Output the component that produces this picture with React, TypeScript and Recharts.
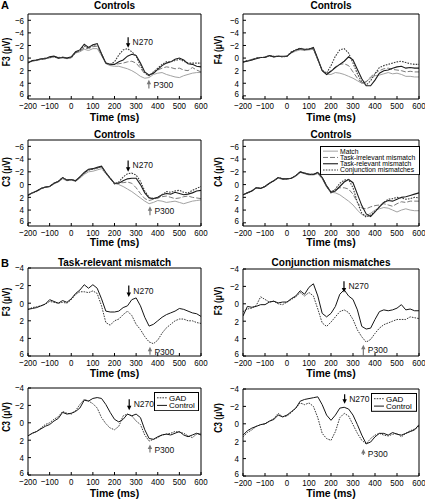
import React from "react";
import { LineChart, Line, XAxis, YAxis, ReferenceLine, Legend } from "recharts";

// sampling times (ms) shared by every panel
const TIMES = [-200, -180, -160, -140, -120, -100, -80, -60, -40, -20, 0, 20, 40, 60, 80, 100, 120, 140, 160, 180, 200, 220, 240, 260, 280, 300, 320, 340, 360, 380, 400, 420, 440, 460, 480, 500, 520, 540, 560, 580, 600];
const X_TICKS = [-200, -100, 0, 100, 200, 300, 400, 500, 600];
const Y_TICKS_A = [-6, -4, -2, 0, 2, 4, 6];
const Y_TICKS_B = [-4, -2, 0, 2, 4, 6];

// A: controls, four conditions
const F3_MATCH = [0.6, 0.5, 0.3, 0.2, 0.1, 0.0, -0.2, 0.0, -0.1, 0.1, 0.0, -0.8, -1.0, -1.4, -1.2, -1.5, -1.5, -0.4, 0.9, 1.2, 1.3, 1.3, 1.5, 1.7, 2.0, 2.4, 2.9, 3.2, 3.1, 2.6, 2.4, 2.3, 2.6, 2.8, 3.0, 3.1, 2.8, 2.6, 2.4, 2.3, 2.3];
const F3_IRREL = [0.7, 0.4, 0.4, 0.2, 0.1, -0.1, -0.3, -0.1, -0.2, 0.0, -0.1, -0.9, -1.1, -1.6, -1.5, -1.8, -1.9, -0.5, 0.8, 1.1, 1.0, 0.9, 0.8, 0.6, 0.5, 0.8, 1.6, 2.5, 2.8, 2.4, 1.9, 1.6, 1.4, 1.5, 1.7, 1.6, 1.9, 2.0, 1.5, 1.9, 2.2];
const F3_REL = [0.8, 0.4, 0.3, 0.1, 0.1, -0.2, -0.3, 0.0, -0.1, 0.0, -0.2, -1.0, -1.3, -2.2, -1.7, -2.1, -2.3, -0.7, 0.8, 1.0, 1.0, 0.6, 0.3, -0.3, -0.6, -0.4, 0.8, 2.2, 2.7, 2.4, 1.8, 1.2, 0.8, 0.6, 0.2, 0.0, 0.3, 0.9, 1.0, 1.3, 1.4];
const F3_CONJ = [0.7, 0.5, 0.3, 0.2, 0.0, -0.1, -0.2, 0.0, -0.1, 0.0, -0.1, -0.9, -1.2, -1.9, -1.6, -2.0, -2.2, -0.6, 0.7, 1.0, 0.6, -0.5, -1.3, -1.5, -1.0, -0.3, 1.2, 2.3, 2.8, 2.2, 1.6, 1.0, 0.6, 0.6, 0.4, 0.2, 0.5, 0.8, 0.8, 0.8, 0.8];

const F4_MATCH = [0.6, 0.4, 0.3, 0.0, -0.1, -0.1, -0.3, -0.2, -0.3, -0.2, -0.3, -0.8, -1.1, -1.3, -1.2, -1.3, -1.4, 0.3, 2.0, 2.6, 2.6, 2.3, 2.4, 2.6, 2.9, 3.2, 3.6, 4.0, 3.7, 3.2, 2.8, 2.7, 2.5, 2.3, 2.5, 2.4, 2.6, 2.9, 2.9, 3.0, 3.0];
const F4_IRREL = [0.7, 0.4, 0.2, 0.0, -0.1, -0.2, -0.4, -0.2, -0.3, -0.2, -0.3, -0.9, -1.3, -1.5, -1.3, -1.5, -1.6, 0.2, 2.0, 2.5, 2.0, 1.4, 1.0, 0.9, 1.2, 2.2, 3.2, 4.0, 3.8, 3.0, 2.4, 2.0, 1.7, 1.6, 1.8, 1.9, 2.0, 2.2, 2.1, 2.2, 2.2];
const F4_REL = [0.6, 0.5, 0.3, 0.1, -0.1, -0.1, -0.4, -0.2, -0.3, -0.3, -0.3, -0.9, -1.3, -1.5, -1.4, -1.4, -1.7, 0.1, 2.0, 2.6, 2.1, 1.5, 1.0, 0.5, -0.2, 0.3, 1.8, 3.3, 4.4, 4.4, 3.5, 2.4, 2.0, 1.9, 1.6, 1.4, 1.3, 1.6, 1.5, 1.6, 1.6];
const F4_CONJ = [0.6, 0.4, 0.3, 0.0, -0.1, -0.1, -0.4, -0.3, -0.3, -0.2, -0.3, -1.0, -1.3, -1.6, -1.3, -1.5, -1.5, 0.2, 1.9, 2.4, 1.2, -0.3, -1.3, -1.5, -0.8, 0.8, 2.5, 3.8, 4.3, 3.6, 2.5, 1.5, 1.2, 1.0, 0.8, 0.6, 0.5, 0.7, 0.9, 1.0, 1.0];

const C3_MATCH = [1.6, 1.3, 1.0, 0.7, 0.4, 0.3, -0.1, -0.4, -0.9, -0.6, -0.7, -0.5, -1.0, -1.6, -2.0, -2.1, -2.3, -2.5, -1.7, -0.9, -0.2, 0.0, 0.3, 0.7, 1.1, 1.6, 2.1, 2.6, 3.0, 2.8, 2.5, 2.6, 2.8, 2.7, 2.6, 2.8, 3.0, 2.8, 2.6, 2.5, 2.4];
const C3_IRREL = [1.6, 1.3, 1.0, 0.6, 0.4, 0.3, -0.2, -0.5, -1.1, -0.7, -0.8, -0.6, -1.2, -1.8, -2.3, -2.4, -2.6, -2.8, -1.9, -1.0, -0.1, -0.3, -0.3, -0.4, -0.2, 0.5, 1.4, 2.2, 2.5, 2.3, 2.1, 1.9, 1.8, 2.0, 2.2, 2.1, 1.9, 1.8, 2.0, 2.1, 2.2];
const C3_REL = [1.7, 1.3, 1.0, 0.6, 0.4, 0.3, -0.2, -0.5, -1.1, -0.7, -0.8, -0.6, -1.2, -1.9, -2.4, -2.5, -2.7, -2.9, -1.9, -1.0, -0.2, -0.2, -0.6, -0.9, -1.0, -1.0, 0.0, 1.3, 2.1, 2.2, 2.0, 1.6, 1.4, 1.5, 1.2, 1.4, 1.6, 1.5, 1.3, 1.0, 0.9];
const C3_CONJ = [1.6, 1.3, 1.1, 0.6, 0.4, 0.3, -0.2, -0.5, -1.1, -0.7, -0.8, -0.6, -1.2, -1.8, -2.3, -2.4, -2.6, -2.8, -1.8, -1.0, -0.1, -0.4, -1.2, -1.7, -1.8, -1.5, -0.5, 1.0, 2.0, 2.2, 2.1, 1.6, 1.1, 1.2, 1.0, 0.9, 1.2, 1.3, 0.9, 0.6, 0.3];

const C4_MATCH = [1.6, 1.3, 1.0, 0.5, 0.6, 0.3, -0.2, -0.6, -1.0, -0.8, -0.9, -1.0, -1.3, -1.9, -1.7, -1.5, -1.5, -1.7, -0.9, 0.4, 1.2, 1.3, 1.6, 2.1, 2.6, 3.2, 4.0, 4.7, 4.9, 4.5, 4.0, 3.8, 3.6, 3.7, 4.0, 4.3, 4.0, 3.8, 4.0, 4.1, 4.1];
const C4_IRREL = [1.6, 1.3, 1.0, 0.5, 0.6, 0.3, -0.2, -0.6, -1.1, -0.9, -0.9, -1.0, -1.4, -2.0, -1.8, -1.6, -1.6, -1.9, -1.1, 0.2, 1.1, 0.8, 0.5, 0.5, 0.7, 1.5, 2.8, 3.7, 3.8, 3.5, 3.3, 3.2, 3.0, 3.2, 3.4, 3.0, 2.7, 2.8, 2.6, 2.6, 2.6];
const C4_REL = [1.6, 1.3, 1.0, 0.5, 0.6, 0.3, -0.2, -0.6, -1.1, -0.9, -0.9, -1.0, -1.4, -2.0, -1.8, -1.6, -1.6, -1.9, -1.1, 0.2, 1.2, 1.0, 0.3, -0.4, -0.8, -0.3, 1.5, 3.3, 4.6, 5.0, 4.3, 3.5, 2.8, 2.5, 2.6, 2.3, 2.0, 1.9, 1.7, 1.5, 1.3];
const C4_CONJ = [1.6, 1.3, 1.0, 0.5, 0.6, 0.3, -0.2, -0.6, -1.1, -0.9, -0.9, -1.0, -1.4, -2.0, -1.8, -1.6, -1.6, -1.9, -1.1, 0.2, 1.3, 0.7, -0.2, -0.7, -0.8, 0.5, 2.8, 4.5, 5.1, 4.8, 4.2, 3.5, 2.8, 2.3, 2.2, 2.0, 2.1, 2.3, 2.2, 2.0, 2.1];

// B: GAD vs control
const F3_REL_GAD = [0.7, 0.5, 0.4, 0.3, 0.1, -0.2, -0.1, 0.0, -0.1, 0.0, -0.4, -1.0, -1.3, -1.3, -1.2, -1.4, -1.1, 0.3, 2.2, 2.5, 2.0, 1.8, 1.3, 0.9, 1.4, 2.4, 3.0, 3.8, 4.4, 4.6, 4.2, 3.4, 2.8, 2.4, 2.0, 1.8, 1.8, 2.0, 2.0, 2.2, 2.3];
const F3_REL_CONTROL = [0.7, 0.6, 0.5, 0.3, 0.1, -0.4, -0.2, 0.0, -0.3, -0.1, -0.5, -1.1, -1.5, -2.1, -1.7, -2.1, -1.7, -0.5, 0.9, 1.0, 1.0, 0.9, 0.5, 0.3, -0.4, -0.6, 0.3, 1.6, 2.6, 2.4, 2.0, 1.6, 1.3, 1.1, 0.9, 0.6, 0.7, 0.9, 1.1, 1.2, 1.5];
const F3_CONJ_GAD = [0.9, 0.6, 0.5, 0.2, -0.8, -0.5, -0.2, -0.3, 0.0, 0.1, -0.2, -0.5, -0.8, -1.3, -0.9, -1.3, -0.9, 0.6, 2.2, 2.6, 2.1, 1.5, 0.9, 0.7, 1.0, 1.8, 3.0, 3.8, 4.4, 4.1, 3.4, 2.8, 2.4, 2.2, 2.0, 1.8, 1.8, 1.8, 1.5, 1.6, 1.7];
const F3_CONJ_CONTROL = [1.4, 0.3, 0.4, 0.3, 0.1, 0.1, -0.2, -0.3, -0.1, -0.2, -0.2, -0.6, -0.9, -1.5, -1.1, -1.9, -2.3, -0.9, 1.1, 1.5, 1.1, 0.3, -1.1, -1.6, -0.9, -0.5, 0.7, 2.6, 2.9, 2.8, 1.8, 0.9, 0.7, 0.8, 0.7, 0.5, 0.1, 0.7, 0.6, 0.8, 0.8];
const C3_REL_GAD = [1.5, 1.2, 1.0, 0.6, 0.2, 0.0, -0.4, -0.7, -1.3, -1.1, -1.0, -1.4, -2.1, -2.7, -2.5, -2.2, -1.7, -0.6, 0.1, 0.6, 0.8, 0.4, -0.8, -1.0, -0.8, -0.2, 0.2, 1.4, 2.1, 1.9, 1.7, 1.4, 1.3, 1.2, 1.0, 1.1, 1.2, 1.5, 1.7, 1.3, 1.2];
const C3_REL_CONTROL = [1.5, 1.2, 1.0, 0.7, 0.4, 0.2, -0.2, -0.5, -1.2, -1.0, -1.1, -1.3, -1.7, -2.6, -2.5, -2.8, -2.9, -2.8, -2.1, -1.2, -0.4, -0.1, -0.4, -1.0, -0.8, -1.0, -0.6, 0.8, 1.8, 1.9, 1.6, 1.4, 1.3, 1.4, 1.2, 1.0, 1.4, 1.6, 1.4, 1.2, 1.4];
const C3_CONJ_GAD = [1.5, 1.0, 0.7, 0.3, 0.1, 0.0, -0.3, -0.6, -1.2, -0.8, -0.9, -1.3, -1.8, -2.4, -2.2, -2.4, -2.0, -0.7, 1.1, 1.7, 1.9, 0.9, -0.7, -1.2, -0.9, 0.1, 1.1, 1.9, 2.3, 1.7, 1.3, 1.1, 1.3, 1.4, 1.2, 1.1, 1.5, 1.1, 0.8, 0.6, 0.3];
const C3_CONJ_CONTROL = [1.3, 0.8, 0.5, 0.3, 0.1, 0.0, -0.3, -0.5, -1.0, -0.8, -1.0, -1.4, -1.8, -2.6, -2.8, -2.9, -3.0, -3.1, -2.2, -1.0, -0.4, -1.0, -1.8, -1.9, -1.7, -1.0, 0.1, 1.3, 2.3, 2.1, 1.5, 1.1, 1.1, 1.3, 1.0, 1.2, 1.3, 1.1, 0.9, 0.7, 0.1];

const SANS = "'Liberation Sans', Arial, Helvetica, sans-serif";
const SQUEEZE = 0.84; // the figure's axis text is a narrow face

type SeriesStyle = { key: string; name: string; stroke: string; width: number; dash?: string };

const A_SERIES: SeriesStyle[] = [
  { key: "match", name: "Match", stroke: "#a3a3a3", width: 1 },
  { key: "irrel", name: "Task-irrelevant mismatch", stroke: "#7a7a7a", width: 1, dash: "5 2" },
  { key: "rel", name: "Task-relevant mismatch", stroke: "#1c1c1c", width: 1.1 },
  { key: "conj", name: "Conjunction mismatches", stroke: "#3c3c3c", width: 1.1, dash: "1.6 1.2" },
];
const B_SERIES: SeriesStyle[] = [
  { key: "gad", name: "GAD", stroke: "#3a3a3a", width: 1, dash: "1.6 1.1" },
  { key: "control", name: "Control", stroke: "#151515", width: 1 },
];

type Note = { label: string; x: number; from: number; to: number; color: string };
type Panel = {
  id: string;
  left: number;
  top: number;
  plotW: number;
  plotH: number;
  domain: [number, number];
  yTicks: number[];
  title?: string;
  titleY?: number;
  yLabel: string;
  yLabelX: number;
  yLabelY: number;
  xLabelY: number;
  series: SeriesStyle[];
  values: Record<string, number[]>;
  legend?: { left: number; top: number; width: number; fontSize: number; rowH: number; sample: number };
  notes?: Note[];
};

const Y_W = 28;
const X_H = 15;
const RIGHT_PAD = 12;
const TOP_PAD = 6;

const PANELS: Panel[] = [
  {
    id: "a1", left: 28, top: 14, plotW: 173, plotH: 85, domain: [-7, 6.5], yTicks: Y_TICKS_A,
    title: "Controls", titleY: 6, yLabel: "F3 (μV)", yLabelX: 7, yLabelY: 52, xLabelY: 117,
    series: A_SERIES, values: { match: F3_MATCH, irrel: F3_IRREL, rel: F3_REL, conj: F3_CONJ },
    notes: [
      { label: "N270", x: 263, from: -3.3, to: -1.65, color: "#000" },
      { label: "P300", x: 359, from: 4.85, to: 3.45, color: "#777" },
    ],
  },
  {
    id: "a2", left: 243, top: 14, plotW: 176, plotH: 85, domain: [-7, 6.5], yTicks: Y_TICKS_A,
    title: "Controls", titleY: 6, yLabel: "F4 (μV)", yLabelX: 219, yLabelY: 50, xLabelY: 117,
    series: A_SERIES, values: { match: F4_MATCH, irrel: F4_IRREL, rel: F4_REL, conj: F4_CONJ },
  },
  {
    id: "a3", left: 28, top: 140, plotW: 173, plotH: 86, domain: [-7, 6.5], yTicks: Y_TICKS_A,
    title: "Controls", titleY: 135, yLabel: "C3 (μV)", yLabelX: 7, yLabelY: 172, xLabelY: 242,
    series: A_SERIES, values: { match: C3_MATCH, irrel: C3_IRREL, rel: C3_REL, conj: C3_CONJ },
    notes: [
      { label: "N270", x: 263, from: -3.8, to: -2.0, color: "#000" },
      { label: "P300", x: 364, from: 4.8, to: 3.4, color: "#777" },
    ],
  },
  {
    id: "a4", left: 243, top: 140, plotW: 176, plotH: 86, domain: [-7, 6.5], yTicks: Y_TICKS_A,
    title: "Controls", titleY: 135, yLabel: "C4 (μV)", yLabelX: 219, yLabelY: 172, xLabelY: 242,
    series: A_SERIES, values: { match: C4_MATCH, irrel: C4_IRREL, rel: C4_REL, conj: C4_CONJ },
    legend: { left: 105, top: 7, width: 100, fontSize: 6.8, rowH: 6.3, sample: 15 },
  },
  {
    id: "b1", left: 28, top: 268, plotW: 173, plotH: 88, domain: [-4, 6], yTicks: Y_TICKS_B,
    title: "Task-relevant mismatch", titleY: 263, yLabel: "F3 (μV)", yLabelX: 7, yLabelY: 302, xLabelY: 373,
    series: B_SERIES, values: { gad: F3_REL_GAD, control: F3_REL_CONTROL },
    notes: [
      { label: "N270", x: 266, from: -2.0, to: -0.7, color: "#000" },
      { label: "P300", x: 364, from: 5.85, to: 4.95, color: "#777" },
    ],
  },
  {
    id: "b2", left: 243, top: 269, plotW: 176, plotH: 87, domain: [-4, 6], yTicks: Y_TICKS_B,
    title: "Conjunction mismatches", titleY: 263, yLabel: "F3 (μV)", yLabelX: 219, yLabelY: 301, xLabelY: 373,
    series: B_SERIES, values: { gad: F3_CONJ_GAD, control: F3_CONJ_CONTROL },
    notes: [
      { label: "N270", x: 259, from: -2.6, to: -1.3, color: "#000" },
      { label: "P300", x: 347, from: 5.9, to: 4.7, color: "#777" },
    ],
  },
  {
    id: "b3", left: 28, top: 388, plotW: 173, plotH: 87, domain: [-4, 6], yTicks: Y_TICKS_B,
    yLabel: "C3 (μV)", yLabelX: 7, yLabelY: 417, xLabelY: 493,
    series: B_SERIES, values: { gad: C3_REL_GAD, control: C3_REL_CONTROL },
    legend: { left: 154, top: 5, width: 45, fontSize: 8, rowH: 7.6, sample: 10 },
    notes: [
      { label: "N270", x: 268, from: -2.7, to: -1.45, color: "#000" },
      { label: "P300", x: 364, from: 3.4, to: 2.5, color: "#777" },
    ],
  },
  {
    id: "b4", left: 243, top: 389, plotW: 176, plotH: 87, domain: [-4, 6], yTicks: Y_TICKS_B,
    yLabel: "C3 (μV)", yLabelX: 219, yLabelY: 418, xLabelY: 493,
    series: B_SERIES, values: { gad: C3_CONJ_GAD, control: C3_CONJ_CONTROL },
    legend: { left: 156, top: 5, width: 46, fontSize: 8, rowH: 7.4, sample: 10 },
    notes: [
      { label: "N270", x: 262, from: -3.4, to: -2.3, color: "#000" },
      { label: "P300", x: 347, from: 3.6, to: 2.9, color: "#777" },
    ],
  },
];

const minus = (v: number) => String(v).replace("-", "\u2212");

// narrow tick labels, drawn at the positions recharts hands over
function XTick(props: any) {
  const { x, y, payload } = props;
  return (
    <text transform={`translate(${x},${y}) scale(${SQUEEZE},1)`} textAnchor="middle" dy="0.71em" fontSize={9.5} fontFamily={SANS} fill="#000">
      {minus(payload.value)}
    </text>
  );
}
function YTick(props: any) {
  const { x, y, payload } = props;
  // the bottom label sits a little above its tick, as in the figure
  const lift = payload.value === 6 ? -2 : 0;
  return (
    <text transform={`translate(${x},${y + lift}) scale(${SQUEEZE},1)`} textAnchor="end" dy="0.35em" fontSize={9.5} fontFamily={SANS} fill="#000">
      {minus(payload.value)}
    </text>
  );
}

function NoteArrow(props: any) {
  const { x1, y1, x2, y2, note } = props;
  const dir = y2 > y1 ? 1 : -1;
  const top = Math.min(y1, y2);
  return (
    <g>
      <line x1={x1} y1={y1} x2={x2} y2={y2 - dir * 3} stroke={note.color} strokeWidth={1.2} />
      <polygon
        points={`${x2},${y2} ${x2 - 2.2},${y2 - dir * 4.5} ${x2 + 2.2},${y2 - dir * 4.5}`}
        fill={note.color}
      />
      <text x={x1 + 4.5} y={top + 8} fontSize={8.5} fontFamily={SANS} fill="#111">
        {note.label}
      </text>
    </g>
  );
}

// matlab-style boxed legend, drawn as svg
function LegendBox({ series, cfg }: any) {
  const h = series.length * cfg.rowH + 4;
  return (
    <svg width={cfg.width} height={h} style={{ display: "block" }}>
      <rect x={0.5} y={0.5} width={cfg.width - 1} height={h - 1} fill="#fff" stroke="#000" strokeWidth={1} />
      {series.map((s: SeriesStyle, i: number) => {
        const cy = 2 + cfg.rowH * (i + 0.5);
        return (
          <g key={s.key}>
            <line x1={3} y1={cy} x2={3 + cfg.sample} y2={cy} stroke={s.stroke} strokeWidth={s.width} strokeDasharray={s.dash} />
            <text x={5 + cfg.sample} y={cy} dy="0.35em" fontSize={cfg.fontSize} fontFamily={SANS} fill="#000">
              {s.name}
            </text>
          </g>
        );
      })}
    </svg>
  );
}

function ErpPanel({ p }: { p: Panel }) {
  const data = TIMES.map((t, i) => {
    const row: Record<string, number> = { t };
    p.series.forEach((s) => {
      row[s.key] = p.values[s.key][i];
    });
    return row;
  });
  const W = Y_W + p.plotW + 1 + RIGHT_PAD;
  const H = TOP_PAD + 1 + p.plotH + X_H;

  return (
    <>
      {p.title && (
        <div
          style={{
            position: "absolute",
            left: p.left - 20,
            width: p.plotW + 40,
            top: (p.titleY || 0) - 6,
            height: 12,
            lineHeight: "12px",
            textAlign: "center",
            fontFamily: SANS,
            fontWeight: "bold",
            fontSize: 10,
          }}
        >
          {p.title}
        </div>
      )}
      <div
        style={{
          position: "absolute",
          left: p.yLabelX - 40,
          top: p.yLabelY - 6,
          width: 80,
          height: 12,
          lineHeight: "12px",
          textAlign: "center",
          transform: `rotate(-90deg) scaleX(${SQUEEZE})`,
          fontFamily: SANS,
          fontWeight: "bold",
          fontSize: 10,
        }}
      >
        {p.yLabel}
      </div>
      <div
        style={{
          position: "absolute",
          left: p.left,
          width: p.plotW,
          top: p.xLabelY - 5.5,
          height: 11,
          lineHeight: "11px",
          textAlign: "center",
          fontFamily: SANS,
          fontWeight: "bold",
          fontSize: 10.5,
        }}
      >
        Time (ms)
      </div>
      <div style={{ position: "absolute", left: p.left - Y_W, top: p.top - 1 - TOP_PAD }}>
        <LineChart width={W} height={H} data={data} margin={{ top: TOP_PAD, right: RIGHT_PAD, bottom: 0, left: 0 }}>
          <XAxis
            dataKey="t"
            type="number"
            domain={[-200, 600]}
            allowDataOverflow
            ticks={X_TICKS}
            interval={0}
            height={X_H}
            tickSize={-3}
            tickMargin={6}
            tick={<XTick />}
            stroke="#000"
          />
          <XAxis
            xAxisId="top"
            orientation="top"
            dataKey="t"
            type="number"
            domain={[-200, 600]}
            allowDataOverflow
            ticks={X_TICKS}
            interval={0}
            height={1}
            tickSize={-3}
            tick={false}
            stroke="#000"
          />
          <YAxis
            type="number"
            domain={p.domain}
            allowDataOverflow
            reversed
            ticks={p.yTicks}
            interval={0}
            width={Y_W}
            tickSize={-3}
            tickMargin={7}
            tick={<YTick />}
            stroke="#000"
          />
          <YAxis
            yAxisId="right"
            orientation="right"
            type="number"
            domain={p.domain}
            allowDataOverflow
            reversed
            ticks={p.yTicks}
            interval={0}
            width={1}
            tickSize={-3}
            tick={false}
            stroke="#000"
          />
          {p.series.map((s) => (
            <Line
              key={s.key}
              dataKey={s.key}
              name={s.name}
              type="linear"
              stroke={s.stroke}
              strokeWidth={s.width}
              strokeDasharray={s.dash}
              dot={false}
              activeDot={false}
              isAnimationActive={false}
            />
          ))}
          {(p.notes || []).map((n) => (
            <ReferenceLine
              key={n.label}
              segment={[
                { x: n.x, y: n.from },
                { x: n.x, y: n.to },
              ]}
              stroke={n.color}
              shape={(sp: any) => <NoteArrow {...sp} note={n} />}
            />
          ))}
          {p.legend && (
            <Legend
              layout="vertical"
              align="center"
              verticalAlign="middle"
              wrapperStyle={{ left: p.legend.left, top: p.legend.top + TOP_PAD, width: p.legend.width }}
              content={() => <LegendBox series={p.series} cfg={p.legend} />}
            />
          )}
        </LineChart>
      </div>
    </>
  );
}

export default function App() {
  return (
    <div style={{ position: "absolute", left: 0, top: 0, width: 425, height: 500, background: "#fff", overflow: "hidden", color: "#000" }}>
      <div style={{ position: "absolute", left: 1, top: -1, lineHeight: "12px", fontFamily: SANS, fontWeight: "bold", fontSize: 11 }}>A</div>
      <div style={{ position: "absolute", left: 1, top: 257, lineHeight: "12px", fontFamily: SANS, fontWeight: "bold", fontSize: 11 }}>B</div>
      {PANELS.map((p) => (
        <ErpPanel key={p.id} p={p} />
      ))}
    </div>
  );
}
